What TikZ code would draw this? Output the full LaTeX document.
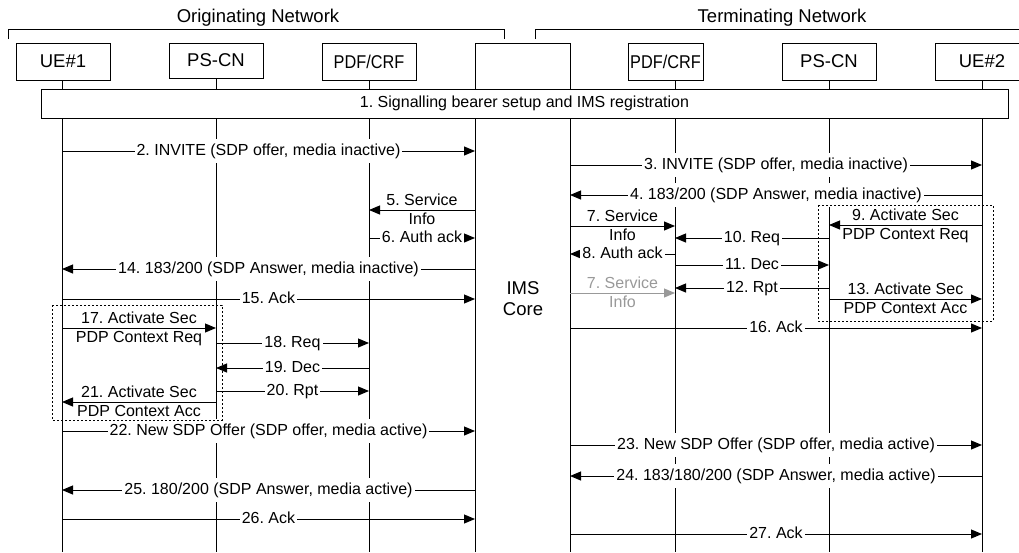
\documentclass[tikz,border=0pt]{standalone}
\usepackage{fontspec}
\setmainfont{Liberation Sans}
\usetikzlibrary{arrows.meta}
\begin{document}
\frenchspacing
\begin{tikzpicture}[x=1pt,y=-1pt,
  every node/.append style={execute at begin node=\frenchspacing},
  hbox/.style={draw, line width=1pt, fill=white, inner sep=0pt, font=\fontsize{18.5}{22}\selectfont},
  life/.style={line width=1pt},
  msg/.style={line width=1pt, -{Triangle[length=11pt,width=9pt]}},
  lbl/.style={fill=white, font=\fontsize{16}{19}\selectfont, inner xsep=2pt, inner ysep=4.5pt, text height=11.6pt, text depth=3.4pt},
  tl/.style={font=\fontsize{16}{19}\selectfont, inner sep=0pt, anchor=base},
  up/.style={tl, yshift=4.5pt},
  dn/.style={tl, yshift=-14.5pt},
  dotbox/.style={line width=1pt, dash pattern=on 2pt off 2pt},
  grey/.style={draw=black!40, text=black!40}
]
\useasboundingbox (0,0) rectangle (1019,552);
% lifeline x positions
\coordinate (ue1) at (62,0);
\coordinate (pscnA) at (216,0);
\coordinate (pdfA) at (369,0);
\coordinate (imsL) at (475,0);
\coordinate (imsR) at (570,0);
\coordinate (pdfB) at (675,0);
\coordinate (pscnB) at (829,0);
\coordinate (ue2) at (982,0);
\coordinate (bot) at (0,552);
\coordinate (imstop) at (0,43);

% network brackets
\node[font=\fontsize{18.5}{22}\selectfont] (orig) at (258,18) {Originating Network};
\node[font=\fontsize{18.5}{22}\selectfont] (term) at (782,18) {Terminating Network};
\draw[line width=1pt] (8,39) -- (8,29) -- (504,29) -- (504,39);
\draw[line width=1pt] (535,39) -- (535,29) -- (1019,29);

% header boxes
\node[hbox, minimum width=94pt, minimum height=37pt] (bUE1) at (63,61.5) {UE\#1};
\node[hbox, minimum width=94pt, minimum height=35pt] (bPSA) at (216,60.5) {PS-CN};
\node[hbox, minimum width=94pt, minimum height=37pt] (bPDFA) at (369,61.5) {\scalebox{0.88}[1]{PDF/CRF}};
\node[hbox, minimum width=75pt, minimum height=37pt] (bPDFB) at (665.5,61.5) {\scalebox{0.88}[1]{PDF/CRF}};
\node[hbox, minimum width=94pt, minimum height=37pt] (bPSB) at (829,61.5) {PS-CN};
\node[hbox, minimum width=94pt, minimum height=37pt] (bUE2) at (982,61.5) {UE\#2};

% lifelines
\draw[life] (ue1 |- bUE1.south) -- (ue1 |- bot);
\draw[life] (pscnA |- bPSA.south) -- (pscnA |- bot);
\draw[life] (pdfA |- bPDFA.south) -- (pdfA |- bot);
\draw[life] (imsL |- bot) -- (imsL |- imstop) -- (imsR |- imstop) -- (imsR |- bot);
\draw[life] (pdfB |- bPDFB.south) -- (pdfB |- bot);
\draw[life] (pscnB |- bPSB.south) -- (pscnB |- bot);
\draw[life] (ue2 |- bUE2.south) -- (ue2 |- bot);

% bar 1
\node[draw, fill=white, line width=1pt, minimum width=967pt, minimum height=29pt, inner sep=0pt,
      font=\fontsize{16}{19}\selectfont] (bar) at (524.5,103.5) {1. Signalling bearer setup and IMS registration};

% IMS core label
\node[align=center, font=\fontsize{18.5}{21}\selectfont, inner sep=0pt] (ims) at (523,298.5) {IMS\\Core};

% message y positions
\foreach \n/\y in {2/151,3/165,4/195,5/210,6/238,7/226,8/254,9/225,10/238,11/265,12/288,7b/293,13/299,14/269,15/299,16/328,17/328,18/343,19/368,20/391,21/402,22/431,23/445,24/476,25/490,26/519,27/534}
  \coordinate (m\n) at (0,\y);

\draw[msg] (ue1 |- m2) -- node[lbl]{2. INVITE (SDP offer, media inactive)} (imsL |- m2);
\draw[msg] (imsR |- m3) -- node[lbl]{3. INVITE (SDP offer, media inactive)} (ue2 |- m3);
\draw[msg] (ue2 |- m4) -- node[lbl]{4. 183/200 (SDP Answer, media inactive)} (imsR |- m4);
\draw[msg] (imsL |- m5) -- node[up]{5. Service} node[dn]{Info} (pdfA |- m5);
\draw[msg] (pdfA |- m6) -- node[lbl]{6. Auth ack} (imsL |- m6);
\draw[msg] (imsR |- m7) -- node[up]{7. Service} node[dn]{Info} (pdfB |- m7);
\draw[msg] (pdfB |- m8) -- node[lbl]{8. Auth ack} (imsR |- m8);
\draw[msg] (ue2 |- m9) -- node[up]{9. Activate Sec} node[dn]{PDP Context Req} (pscnB |- m9);
\draw[msg] (pscnB |- m10) -- node[lbl]{10. Req} (pdfB |- m10);
\draw[msg] (pdfB |- m11) -- node[lbl]{11. Dec} (pscnB |- m11);
\draw[msg] (pscnB |- m12) -- node[lbl]{12. Rpt} (pdfB |- m12);
\draw[msg, grey] (imsR |- m7b) -- node[up]{7. Service} node[dn]{Info} (pdfB |- m7b);
\draw[msg] (pscnB |- m13) -- node[up]{13. Activate Sec} node[dn]{PDP Context Acc} (ue2 |- m13);
\draw[msg] (imsL |- m14) -- node[lbl]{14. 183/200 (SDP Answer, media inactive)} (ue1 |- m14);
\draw[msg] (ue1 |- m15) -- node[lbl]{15. Ack} (imsL |- m15);
\draw[msg] (imsR |- m16) -- node[lbl]{16. Ack} (ue2 |- m16);
\draw[msg] (ue1 |- m17) -- node[up]{17. Activate Sec} node[dn]{PDP Context Req} (pscnA |- m17);
\draw[msg] (pscnA |- m18) -- node[lbl]{18. Req} (pdfA |- m18);
\draw[msg] (pdfA |- m19) -- node[lbl]{19. Dec} (pscnA |- m19);
\draw[msg] (pscnA |- m20) -- node[lbl]{20. Rpt} (pdfA |- m20);
\draw[msg] (pscnA |- m21) -- node[up]{21. Activate Sec} node[dn]{PDP Context Acc} (ue1 |- m21);
\draw[msg] (ue1 |- m22) -- node[lbl]{22. New SDP Offer (SDP offer, media active)} (imsL |- m22);
\draw[msg] (imsR |- m23) -- node[lbl]{23. New SDP Offer (SDP offer, media active)} (ue2 |- m23);
\draw[msg] (ue2 |- m24) -- node[lbl]{24. 183/180/200 (SDP Answer, media active)} (imsR |- m24);
\draw[msg] (imsL |- m25) -- node[lbl]{25. 180/200 (SDP Answer, media active)} (ue1 |- m25);
\draw[msg] (ue1 |- m26) -- node[lbl]{26. Ack} (imsL |- m26);
\draw[msg] (imsR |- m27) -- node[lbl]{27. Ack} (ue2 |- m27);

% dotted boxes
\draw[dotbox] (52,305) rectangle (222,420);
\draw[dotbox] (818,205) rectangle (993,321);
\end{tikzpicture}
\end{document}
